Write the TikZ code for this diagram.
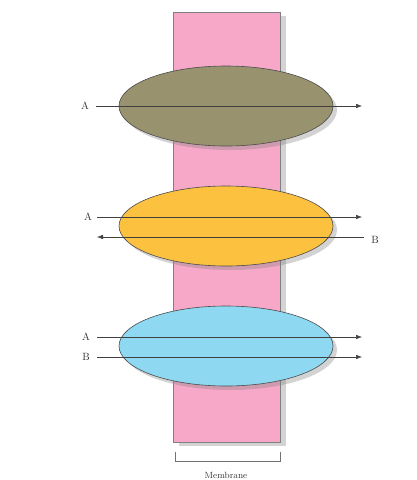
\documentclass[tikz,border=0pt]{standalone}
\usetikzlibrary{arrows.meta,shadows,shapes.geometric,calc}
\definecolor{memb}{RGB}{247,168,200}
\definecolor{olivec}{RGB}{152,147,110}
\definecolor{yellowc}{RGB}{253,193,64}
\definecolor{bluec}{RGB}{142,216,242}
\tikzset{
  prot/.style={ellipse, draw=black!70, line width=0.6pt, minimum width=214pt, minimum height=80pt, inner sep=0pt,
    drop shadow={opacity=0.35, shadow xshift=4pt, shadow yshift=-4pt}},
  flow/.style={draw=black!75, line width=0.5pt, -{Latex[length=6pt,width=4.5pt]}},
  lab/.style={font=\fontsize{10.5}{12}\selectfont, text=black!80, inner sep=1pt},
}
\begin{document}
\begin{tikzpicture}[x=1pt,y=-1pt]
\useasboundingbox (0,0) rectangle (417,480);
% membrane
\node[draw=black!50, line width=0.5pt, fill=memb, minimum width=107pt, minimum height=430pt, inner sep=0pt,
  drop shadow={opacity=0.35, shadow xshift=6pt, shadow yshift=-4pt}] (mem) at (226.5,227) {};
% proteins
\node[prot, fill=olivec] (p1) at (226,106) {};
\node[prot, fill=yellowc] (p2) at (226,226) {};
\node[prot, fill=bluec] (p3) at (226,346) {};
% arrows
\node[lab] (a1) at (85,106) {A};
\coordinate (e1) at (362,106);
\draw[flow] (a1.east) ++(6,0) coordinate (s1) (s1) -- (e1);
\node[lab] (a2) at (88,217) {A};
\coordinate (e2) at (362,217);
\draw[flow] (a2.east) ++(4,0) coordinate (s2) (s2) -- (e2);
\node[lab] (b2) at (375,240) {B};
\coordinate (e3) at (97,237);
\coordinate (s3) at (364,237);
\draw[flow] (s3) -- (e3);
\node[lab] (a3) at (86,337) {A};
\coordinate (e4) at (362,337);
\draw[flow] (a3.east) ++(6,0) coordinate (s4) (s4) -- (e4);
\node[lab] (b3) at (86,357) {B};
\coordinate (e5) at (362,357);
\draw[flow] (b3.east) ++(6,0) coordinate (s5) (s5) -- (e5);
% bracket
\coordinate (bl) at (175,452);
\coordinate (br) at (280,452);
\draw[black!55, line width=0.5pt] (bl) -- ++(0,9) -- ($(br)+(0,9)$) -- (br);
\node[lab, font=\fontsize{9}{10}\selectfont] (mlab) at (226,475) {Membrane};
\end{tikzpicture}
\end{document}
